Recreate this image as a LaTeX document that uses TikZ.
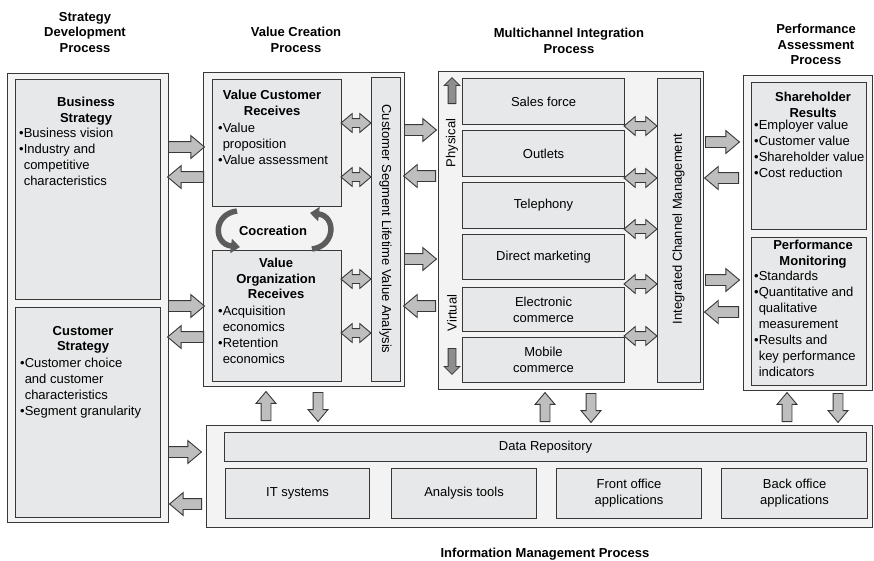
\documentclass[tikz,border=0pt]{standalone}
\usepackage{fontspec}
\setmainfont{Liberation Sans}
\usetikzlibrary{arrows.meta,calc,positioning,shapes.arrows}

\definecolor{rahmen}{HTML}{383838}
\definecolor{aussenfill}{HTML}{F3F3F3}
\definecolor{innenfill}{HTML}{E7E8E9}
\definecolor{pfeilfill}{HTML}{BEBEBE}
\definecolor{dunkelfill}{HTML}{8E8E8E}
\definecolor{kurvfarbe}{HTML}{5C5C5C}

\newcommand{\fs}{\fontsize{13pt}{16pt}\selectfont}
\newcommand{\fst}{\fontsize{13pt}{15.5pt}\selectfont\bfseries}
\newcommand{\ein}{\hphantom{•}}

% Kasten: Name, Stil, x1, y1, x2, y2, Text
\newcommand{\kasten}[7]{%
  \node[#2, minimum width={(#5-#3)*1pt}, minimum height={(#6-#4)*1pt}] (#1) at (#3,#4) {#7};}

\begin{document}
\begin{tikzpicture}[x=1pt,y=-1pt,
  aussen/.style={draw=rahmen, fill=aussenfill, line width=1.2pt, inner sep=0pt, anchor=north west},
  innen/.style={draw=rahmen, fill=innenfill, line width=1.1pt, inner sep=0pt, anchor=north west, align=center, font=\fs},
  titel/.style={align=center, font=\fst, inner sep=0pt},
  liste/.style={align=left, font=\fs, inner sep=0pt, anchor=north west},
  senk/.style={font=\fs, inner sep=0pt},
  % bei Pfeilen: minimum height = Laenge, Kopfbreite ueber head extend
  pfeil/.style={single arrow, draw=rahmen, fill=pfeilfill, line width=0.9pt, inner sep=5pt,
    single arrow head extend=6pt, single arrow tip angle=80, minimum width=0pt, anchor=tail},
  rechts/.style={pfeil, minimum height=#1, shape border rotate=0},
  links/.style={pfeil, minimum height=#1, shape border rotate=180},
  hoch/.style={pfeil, minimum height=29pt, inner sep=4.5pt, single arrow head extend=5pt, shape border rotate=90},
  runter/.style={pfeil, minimum height=29pt, inner sep=4.5pt, single arrow head extend=5pt, shape border rotate=270},
  doppel/.style={double arrow, draw=rahmen, fill=pfeilfill, line width=0.9pt, inner sep=4pt,
    double arrow head extend=5pt, double arrow tip angle=80, minimum width=0pt, minimum height=#1},
  klein/.style={single arrow, draw=rahmen, fill=dunkelfill, line width=0.8pt, inner sep=3.5pt,
    single arrow head extend=4pt, minimum width=0pt, minimum height=26pt, anchor=tail},
  kurv/.style={draw=kurvfarbe, line width=5.5pt, -{Triangle[length=9pt,width=14pt]}}]

\useasboundingbox (0,0) rectangle (874,560);

% ------------------- Ueberschriften -------------------
\node[titel] (tStrat) at (85,32.5) {Strategy\\Development\\Process};
\node[titel] (tWert) at (296,40) {Value Creation\\Process};
\node[titel] (tKanal) at (569,41) {Multichannel Integration\\Process};
\node[titel] (tLeist) at (816,44.5) {Performance\\Assessment\\Process};
\node[titel] (tInfo) at (545,554) {Information Management Process};

% ------------------- Strategie -------------------
\kasten{strat}{aussen}{7}{73}{168}{522}{}
\kasten{bs}{innen}{15}{79}{160}{299}{}
\kasten{cs}{innen}{15}{307}{160}{517}{}
\node[titel, anchor=north] (bsT) at ([xshift=-2pt,yshift=-18pt]bs.north) {Business\\Strategy};
\node[liste] (bsL) at ([xshift=4pt,yshift=-49pt]bs.north west)
  {•Business vision\\•Industry and\\\ein{}competitive\\\ein{}characteristics};
\node[titel, anchor=north] (csT) at ([xshift=-5pt,yshift=-19pt]cs.north) {Customer\\Strategy};
\node[liste] (csL) at ([xshift=5pt,yshift=-51pt]cs.north west)
  {•Customer choice\\\ein{}and customer\\\ein{}characteristics\\•Segment granularity};

% ------------------- Wertschoepfung -------------------
\kasten{wert}{aussen}{203}{72}{404}{386}{}
\kasten{vcr}{innen}{212}{79}{341}{206}{}
\kasten{vor}{innen}{212}{250}{341}{381}{}
\kasten{cslva}{innen}{371}{77}{400}{381}{}
\node[titel, anchor=north] (vcrT) at ([xshift=-5pt,yshift=-11pt]vcr.north) {Value Customer\\Receives};
\node[liste] (vcrL) at ([xshift=6pt,yshift=-44pt]vcr.north west)
  {•Value\\\ein{}proposition\\•Value assessment};
\node[titel, anchor=north] (vorT) at ([xshift=-1pt,yshift=-8pt]vor.north) {Value\\Organization\\Receives};
\node[liste] (vorL) at ([xshift=6pt,yshift=-56pt]vor.north west)
  {•Acquisition\\\ein{}economics\\•Retention\\\ein{}economics};
\node[senk, rotate=-90] (cslvaT) at (385.5,229) {Customer Segment Lifetime Value Analysis};
\node[titel] (cocr) at (273,231) {Cocreation};
\draw[kurv] (237,211) .. controls (213,214) and (213,244) .. (240,247);
\draw[kurv] (312,249) .. controls (336,246) and (336,216) .. (310,213);

% ------------------- Mehrkanal -------------------
\kasten{kanal}{aussen}{438}{71}{703}{389}{}
\kasten{sf}{innen}{462}{78}{624}{124}{Sales force}
\kasten{ou}{innen}{462}{130}{624}{176}{Outlets}
\kasten{te}{innen}{462}{182}{624}{228}{Telephony}
\kasten{dm}{innen}{462}{234}{624}{279}{Direct marketing}
\kasten{ec}{innen}{462}{287}{624}{331}{Electronic\\commerce}
\kasten{mc}{innen}{462}{337}{624}{382}{Mobile\\commerce}
\kasten{icm}{innen}{657}{78}{700}{382}{}
\node[senk, rotate=90] (icmT) at (678.5,229) {Integrated Channel Management};
\node[senk, rotate=90] (phys) at (452,143) {Physical};
\node[senk, rotate=90] (virt) at (452,313) {Virtual};
\node[klein, shape border rotate=90] (physP) at (452,104) {};
\node[klein, shape border rotate=270] (virtP) at (452,348) {};

% ------------------- Leistungsbewertung -------------------
\kasten{leist}{aussen}{743}{75}{872}{390}{}
\kasten{sr}{innen}{751}{82}{866}{229}{}
\kasten{pm}{innen}{751}{237}{866}{385}{}
\node[titel, anchor=north] (srT) at ([xshift=4pt,yshift=-10pt]sr.north) {Shareholder\\Results};
\node[liste] (srL) at ([xshift=3pt,yshift=-38pt]sr.north west)
  {•Employer value\\•Customer value\\•Shareholder value\\•Cost reduction};
\node[titel, anchor=north] (pmT) at ([xshift=4pt,yshift=-3pt]pm.north) {Performance\\Monitoring};
\node[liste] (pmL) at ([xshift=3pt,yshift=-34pt]pm.north west)
  {•Standards\\•Quantitative and\\\ein{}qualitative\\\ein{}measurement\\•Results and\\\ein{}key performance\\\ein{}indicators};

% ------------------- Informationsmanagement -------------------
\kasten{info}{aussen}{206}{425}{872}{527}{}
\kasten{dr}{innen}{224}{432}{866}{461}{Data Repository}
\kasten{itsys}{innen}{225}{468}{369}{518}{IT systems}
\kasten{analyse}{innen}{391}{468}{536}{518}{Analysis tools}
\kasten{front}{innen}{556}{468}{701}{518}{Front office\\applications}
\kasten{back}{innen}{721}{468}{867}{518}{Back office\\applications}

% ------------------- Blockpfeile -------------------
\node[rechts=36pt] (p1) at (168,147) {};
\node[links=36pt] (p2) at (204,177) {};
\node[rechts=36pt] (p3) at (168,306) {};
\node[links=36pt] (p4) at (204,337) {};
\node[rechts=33pt] (p5) at (168,452) {};
\node[links=32pt] (p6) at (202,504) {};

\node[rechts=32pt] (p7) at (404,130) {};
\node[links=32pt] (p8) at (436,176) {};
\node[rechts=32pt] (p9) at (404,259) {};
\node[links=32pt] (p10) at (436,306) {};

\node[rechts=34pt] (p11) at (705,142) {};
\node[links=34pt] (p12) at (739,178) {};
\node[rechts=34pt] (p13) at (705,280) {};
\node[links=34pt] (p14) at (739,312) {};

\node[hoch] (h1) at (266,421) {};
\node[runter] (r1) at (318,392) {};
\node[hoch] (h2) at (545,422) {};
\node[runter] (r2) at (591,393) {};
\node[hoch] (h3) at (787,422) {};
\node[runter] (r3) at (838,393) {};

% Doppelpfeile
\foreach \y [count=\i] in {123,177,279,333}
  \node[doppel=30pt] (dv\i) at (356,\y) {};
\foreach \y [count=\i] in {126,178,229,284,336}
  \node[doppel=33pt] (dk\i) at (640.5,\y) {};

\end{tikzpicture}
\end{document}
